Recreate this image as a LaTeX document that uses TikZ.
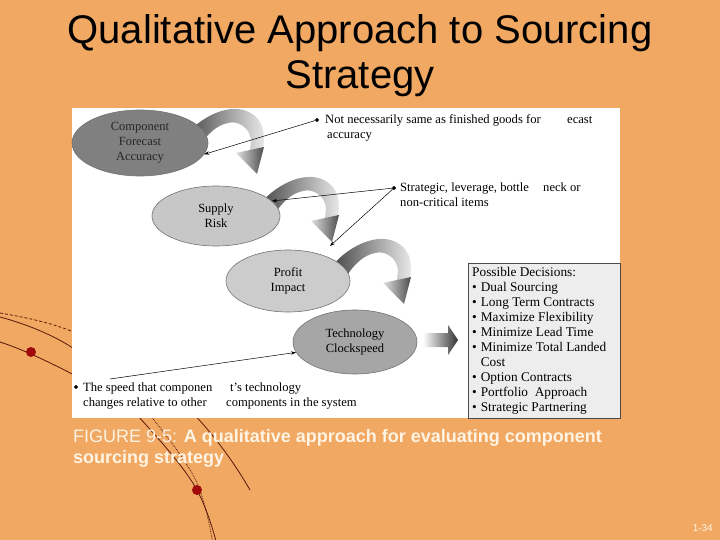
\documentclass[tikz,border=0pt]{standalone}
\usepackage{fontspec}
\setmainfont{Liberation Serif}
\newfontfamily\arial{Liberation Sans}
\usetikzlibrary{arrows.meta,shapes.geometric}
\definecolor{bg}{RGB}{240,168,98}
\definecolor{capc}{RGB}{255,244,228}
\definecolor{decoc}{RGB}{90,25,10}
\definecolor{dotc}{RGB}{160,10,10}
\newcommand\bentarrow[2]{%
 \begin{scope}[shift={(#1,#2)}]
 \shade[band] (-8,14) .. controls (10,-8) and (45,-24) .. (64,-4) .. controls (71,4) and (72,14) .. (70,27) -- (57,29) -- (58,18) .. controls (57,6) and (45,-2) .. (35,1) .. controls (25,3) and (15,10) .. (4,28) -- cycle;
 \shade[head] (43,31) -- (71,25) -- (64,52) -- cycle;
 \end{scope}}
\begin{document}
\begin{tikzpicture}[x=1pt,y=-1pt,
  ell/.style={ellipse, draw=black!55, line width=0.6pt, inner sep=0pt, align=center, font=\fontsize{12.5}{15}\selectfont},
  ann/.style={anchor=base west, inner sep=0pt, font=\fontsize{12.6}{15}\selectfont},
  bul/.style={diamond, fill=black, inner sep=0pt, minimum size=4.5pt},
  conn/.style={line width=0.5pt, -{Stealth[length=5pt,width=3.5pt]}},
  deco/.style={line width=0.8pt, draw=decoc},
  band/.style={left color=black!72, right color=white!92!black},
  head/.style={left color=black!12, right color=black!70},
]
\useasboundingbox (0,0) rectangle (720,540);
\fill[bg] (0,0) rectangle (720,540);
% decorative curves
\draw[deco, densely dashed] (0,313) .. controls (30,318) and (60,325) .. (80,335);
\draw[deco] (0,317) .. controls (30,325) and (60,338) .. (80,353);
\draw[deco] (0,342) .. controls (25,350) and (55,365) .. (80,378);
\draw[deco] (128,405) .. controls (160,440) and (185,468) .. (197,490) .. controls (205,505) and (212,525) .. (217,545);
\draw[deco, densely dotted] (142,405) .. controls (170,440) and (192,468) .. (200,490) .. controls (205,505) and (210,525) .. (213,545);
\draw[deco] (185,405) .. controls (205,425) and (228,452) .. (250,490);
\fill[dotc] (31,352) circle (5);
\fill[dotc] (197,490) circle (5);
% white figure area
\fill[white] (72,108) rectangle (620,418);
% bent arrows
\bentarrow{193}{122}
\bentarrow{268}{190}
\bentarrow{340}{252}
% ellipses
\node[ell, fill=black!50, minimum width=136pt, minimum height=66pt, text=black!85] (e1) at (140,143) {Component\\Forecast\\Accuracy};
\node[ell, fill=black!22, minimum width=128pt, minimum height=60pt] (e2) at (216,216) {Supply\\Risk};
\node[ell, fill=black!20, minimum width=124pt, minimum height=62pt] (e3) at (288,281) {Profit\\Impact};
\node[ell, fill=black!35, minimum width=124pt, minimum height=64pt] (e4) at (355,342) {Technology\\Clockspeed};
% block arrow
\shade[left color=white, right color=black!80] (423,333) -- (448,333) -- (448,325) -- (458,340) -- (448,355) -- (448,347) -- (423,347) -- cycle;
% decisions box
\node[draw=black!70, fill=black!7, line width=0.8pt, minimum width=152pt, minimum height=155pt, anchor=north west, inner sep=0pt] (dec) at (468,263) {};
\node[anchor=north west, inner sep=0pt, font=\fontsize{13.3}{15}\selectfont] (dect) at (472,266) {%
\begin{tabular}{@{}l@{\hspace{4pt}}l@{}}
\multicolumn{2}{@{}l@{}}{Possible Decisions:}\\
• & Dual Sourcing\\
• & Long Term Contracts\\
• & Maximize Flexibility\\
• & Minimize Lead Time\\
• & Minimize Total Landed\\
  & Cost\\
• & Option Contracts\\
• & Portfolio\ \ Approach\\
• & Strategic Partnering
\end{tabular}};
% annotations
\node[bul] (b1) at (317,120) {};
\node[ann] (a1a) at (325,124) {Not necessarily same as finished goods for};
\node[ann] (a1b) at (567,124) {ecast};
\node[ann] (a1c) at (327,139) {accuracy};
\node[bul] (b2) at (394,188) {};
\node[ann] (a2a) at (400,192) {Strategic, leverage, bottle};
\node[ann] (a2b) at (543,192) {neck or};
\node[ann] (a2c) at (400,207) {non-critical items};
\node[bul] (b3) at (76,387) {};
\node[ann] (a3a) at (83,391) {The speed that componen};
\node[ann] (a3b) at (230,391) {t’s technology};
\node[ann] (a3c) at (83,406) {changes relative to other};
\node[ann] (a3d) at (226,406) {components in the system};
\coordinate (p2) at (330,246);
\coordinate (s3) at (110,379);
\draw[conn] (b1) -- (e1.-10);
\draw[conn] (b2) -- (e2.15);
\draw[conn] (b2) -- (p2);
\draw[conn] (s3) -- (e4.190);
% title and caption
\node[anchor=base, inner sep=0pt, font=\arial\fontsize{40}{45}\selectfont] (t1) at (360,44) {Qualitative Approach to Sourcing};
\node[anchor=base, inner sep=0pt, font=\arial\fontsize{40}{45}\selectfont] (t2) at (360,89) {Strategy};
\node[anchor=base west, inner sep=0pt, font=\arial\fontsize{18}{22}\selectfont, text=capc] (c1) at (73,442) {FIGURE 9-5: \textbf{A qualitative approach for evaluating component}};
\node[anchor=base west, inner sep=0pt, font=\arial\fontsize{18}{22}\selectfont, text=capc] (c2) at (73,463) {\textbf{sourcing strategy}};
\node[anchor=base east, inner sep=0pt, font=\arial\fontsize{10}{12}\selectfont, text=capc] (pn) at (713,531) {1-34};
\end{tikzpicture}
\end{document}
